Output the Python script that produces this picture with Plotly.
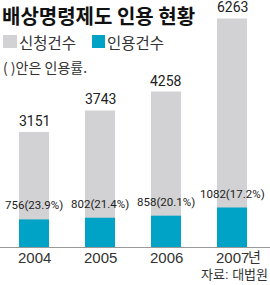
import plotly.graph_objects as go

years = ["2004", "2005", "2006", "2007"]
last_suffix = "년"
applied = [3151, 3743, 4258, 6263]
accepted = [756, 802, 858, 1082]
rates = ["23.9%", "21.4%", "20.1%", "17.2%"]

GRAY = "#d2d2d4"
BLUE = "#00a2c6"
W, H = 270, 285
base_px = 247
px_per_unit = 0.0365
NUMFONT = "Liberation Sans Narrow, Roboto, Liberation Sans"
MIXFONT = "Liberation Sans, Noto Sans CJK KR"

xi = list(range(len(years)))
fig = go.Figure()
fig.add_trace(go.Bar(x=xi, y=applied, marker=dict(color=GRAY, line=dict(width=0)),
                     width=0.455, showlegend=False, hoverinfo="skip"))
fig.add_trace(go.Bar(x=xi, y=accepted, marker=dict(color=BLUE, line=dict(width=0)),
                     width=0.455, showlegend=False, hoverinfo="skip"))

ymax = base_px / px_per_unit
fig.update_layout(
    width=W, height=H, margin=dict(l=0, r=0, t=0, b=0),
    paper_bgcolor="white", plot_bgcolor="white", barmode="overlay",
    xaxis=dict(range=[-34/66, (W-34)/66], domain=[0, 1], tickmode="array",
               tickvals=xi, ticktext=years, showgrid=False, zeroline=False,
               showline=True, linecolor="#999", linewidth=1,
               ticks="", showticklabels=False),
    yaxis=dict(range=[0, ymax], domain=[(H-base_px)/H, 1], visible=False),
    font=dict(family="Noto Sans CJK KR"),
)

# category labels under the axis
for i, yr in enumerate(years):
    fig.add_annotation(x=i, y=0, xref="x", yref="y", yanchor="top", yshift=-1,
                       showarrow=False, borderpad=0, text=yr,
                       font=dict(family="Liberation Sans", size=15, color="#333"))
fig.add_annotation(x=len(years) - 1, y=0, xref="x", yref="y", xanchor="left",
                   yanchor="top", yshift=-1, xshift=15, showarrow=False, borderpad=0,
                   text=last_suffix,
                   font=dict(family=MIXFONT, size=14, color="#333"))

for i, v in enumerate(applied):
    fig.add_annotation(x=i, y=v, xref="x", yref="y", yanchor="bottom", yshift=1,
                       showarrow=False, text=str(v),
                       font=dict(family=NUMFONT, size=14, color="#222"))
for i, (a, r) in enumerate(zip(accepted, rates)):
    fig.add_annotation(x=i, y=a, xref="x", yref="y", yanchor="bottom", yshift=5,
                       showarrow=False, text=f"{a}({r})",
                       font=dict(family=NUMFONT, size=11.5, color="#222"))

def yp(px):
    return 1 - px / H

fig.add_annotation(x=0.005, y=1, xref="paper", yref="paper", xanchor="left",
                   yanchor="top", showarrow=False, borderpad=0,
                   text="<b>배상명령제도 인용 현황</b>",
                   font=dict(family="Noto Sans CJK KR", size=20, color="#111"))
# legend
fig.add_shape(type="rect", xref="paper", yref="paper", x0=3/W, x1=17/W,
              y0=yp(48), y1=yp(35), fillcolor=GRAY, line=dict(width=0))
fig.add_annotation(x=17/W, y=yp(42), xref="paper", yref="paper", xanchor="left",
                   yanchor="middle", showarrow=False, text="신청건수",
                   font=dict(family="Noto Sans CJK KR", size=15.5, color="#333"))
fig.add_shape(type="rect", xref="paper", yref="paper", x0=92/W, x1=105/W,
              y0=yp(48), y1=yp(35), fillcolor=BLUE, line=dict(width=0))
fig.add_annotation(x=105/W, y=yp(42), xref="paper", yref="paper", xanchor="left",
                   yanchor="middle", showarrow=False, text="인용건수",
                   font=dict(family="Noto Sans CJK KR", size=15.5, color="#333"))
fig.add_annotation(x=1/W, y=yp(67), xref="paper", yref="paper", xanchor="left",
                   yanchor="middle", showarrow=False, text="( )안은 인용률.",
                   font=dict(family="Noto Sans CJK KR", size=14, color="#333"))
fig.add_annotation(x=269/W, y=0, xref="paper", yref="paper", xanchor="right",
                   yanchor="bottom", yshift=2, showarrow=False, borderpad=0,
                   text="자료: 대법원",
                   font=dict(family=MIXFONT, size=13, color="#333"))

fig.write_html("out.html")
